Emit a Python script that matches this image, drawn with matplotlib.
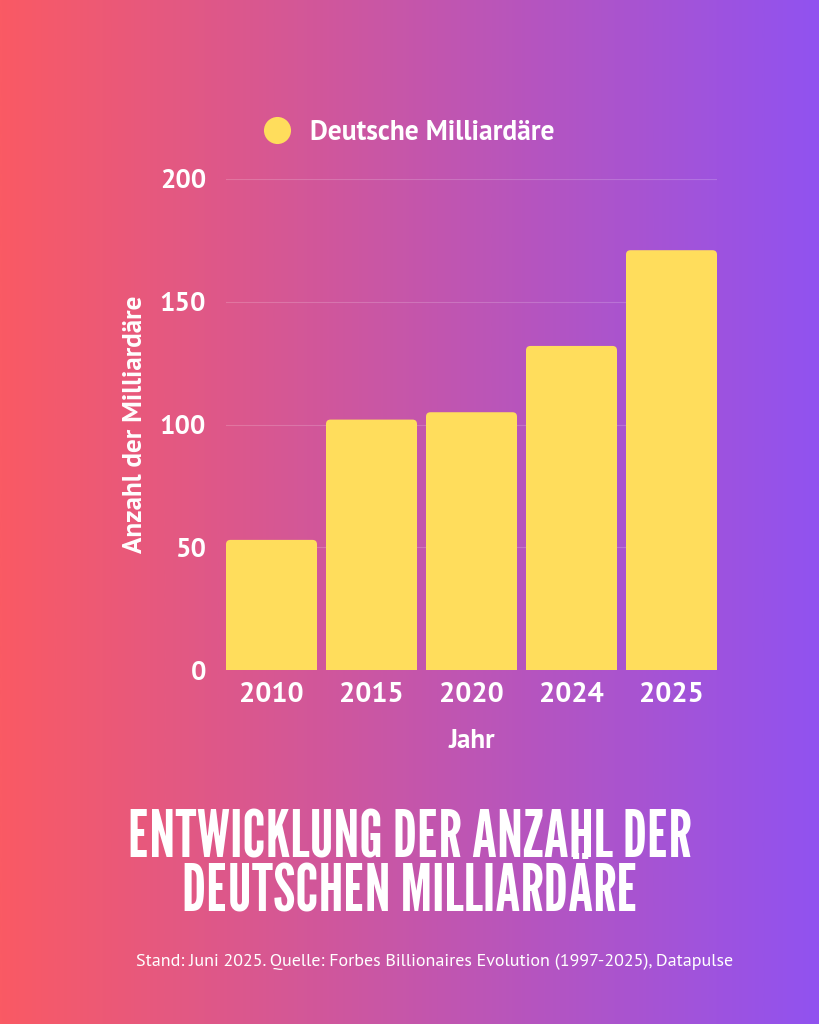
import numpy as np
import matplotlib
matplotlib.use("Agg")
import matplotlib.pyplot as plt
from matplotlib.colors import LinearSegmentedColormap
from matplotlib.lines import Line2D
from matplotlib.patches import FancyBboxPatch

# Daten
years = ["2010", "2015", "2020", "2024", "2025"]
billionaires = [53, 102, 105, 132, 171]
y_ticks = [0, 50, 100, 150, 200]

BAR_COLOR = "#FFDD5C"
TEXT_COLOR = "white"
BG_LEFT = "#FA5A64"
BG_RIGHT = "#9152F0"

plt.rcParams["font.family"] = ["PT Sans", "DejaVu Sans"]

fig = plt.figure(figsize=(8.19, 10.24), dpi=100)

# Hintergrund-Verlauf
bg = fig.add_axes([0, 0, 1, 1], zorder=-10)
cmap = LinearSegmentedColormap.from_list("bg", [BG_LEFT, BG_RIGHT])
bg.imshow(np.linspace(0, 1, 512).reshape(1, -1), aspect="auto", cmap=cmap,
          extent=[0, 1, 0, 1])
bg.set_axis_off()

ax = fig.add_axes([226 / 819, 1 - 670 / 1024, 491 / 819, 491 / 1024])
ax.patch.set_alpha(0)

x = np.arange(len(years))
bars = ax.bar(x, billionaires, width=0.91, color=BAR_COLOR, zorder=3)
# abgerundete Ecken oben
for b in bars:
    b.set_visible(False)
    p = FancyBboxPatch((b.get_x(), -3), b.get_width(), b.get_height() + 3,
                       boxstyle="round,pad=0,rounding_size=0.045",
                       mutation_aspect=40, facecolor=BAR_COLOR,
                       edgecolor="none", zorder=3)
    ax.add_patch(p)

ax.set_xlim(-0.455, len(years) - 0.545)
ax.set_ylim(0, 200)
ax.set_yticks(y_ticks)
ax.set_xticks(x)
ax.set_xticklabels(years)
ax.grid(axis="y", color="white", alpha=0.18, linewidth=0.8, zorder=0)
ax.grid(axis="x", visible=False)
for s in ax.spines.values():
    s.set_visible(False)
ax.tick_params(axis="both", length=0, colors=TEXT_COLOR)
ax.tick_params(axis="y", pad=14.5, labelsize=19.5)
ax.tick_params(axis="x", pad=9, labelsize=20.5)
for lab in ax.get_xticklabels() + ax.get_yticklabels():
    lab.set_fontweight("bold")

ax.set_xlabel("Jahr", color=TEXT_COLOR, fontsize=19.5, fontweight="bold", labelpad=15)
ax.set_ylabel("Anzahl der Milliardäre", color=TEXT_COLOR, fontsize=19.5,
              fontweight="bold", labelpad=9)

handle = Line2D([], [], linestyle="none", marker="o", markersize=19.5,
                markerfacecolor=BAR_COLOR, markeredgecolor="none")
leg = fig.legend([handle], ["Deutsche Milliardäre"], loc="center",
                 bbox_to_anchor=(0.491, 1 - 133 / 1024), frameon=False,
                 handletextpad=0.2, prop={"size": 19.8, "weight": "bold"})
for t in leg.get_texts():
    t.set_color(TEXT_COLOR)

fig.text(0.5, 1 - 866 / 1024, "ENTWICKLUNG DER ANZAHL DER\nDEUTSCHEN MILLIARDÄRE",
         ha="center", va="center", color=TEXT_COLOR, fontsize=47,
         family=["League Gothic", "DejaVu Sans"], linespacing=0.86)

fig.text(136 / 819, 1 - 962 / 1024,
         "Stand: Juni 2025. Quelle: Forbes Billionaires Evolution (1997-2025), Datapulse",
         ha="left", va="center", color=TEXT_COLOR, fontsize=13)

fig.savefig("out.png", dpi=100)
